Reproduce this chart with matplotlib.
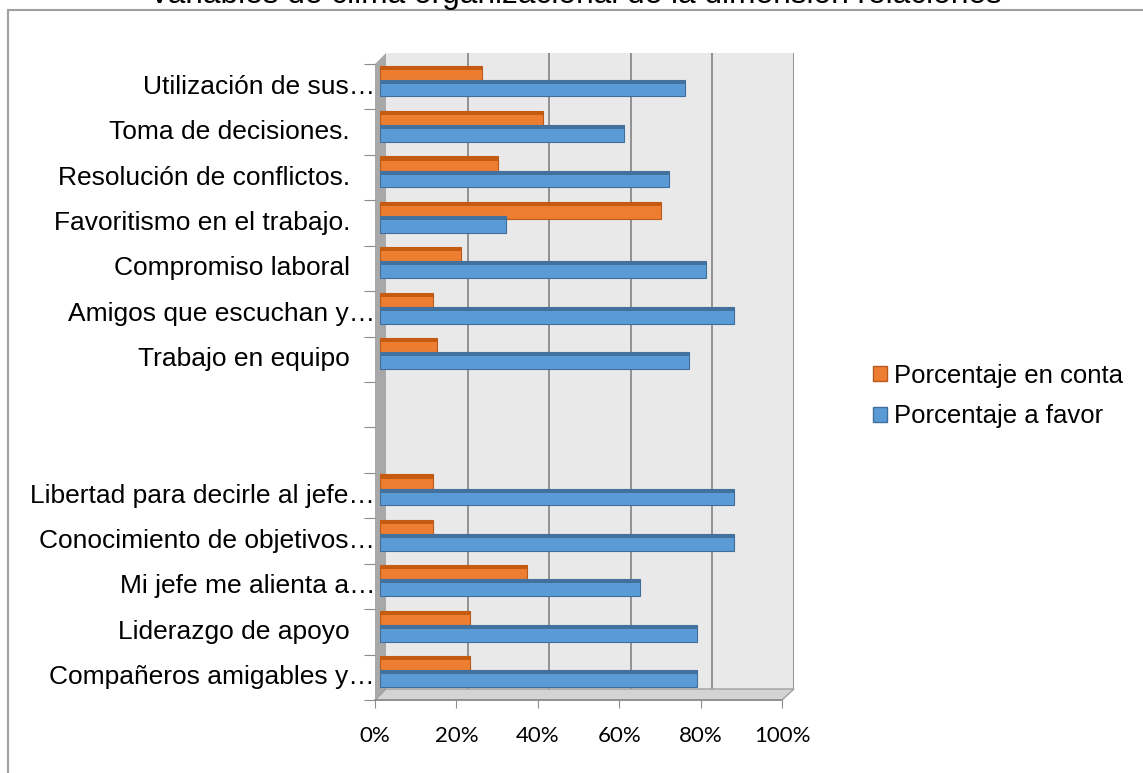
import numpy as np
import matplotlib
matplotlib.use("Agg")
import matplotlib.pyplot as plt
from matplotlib.patches import Polygon, Rectangle

# categories bottom -> top (two empty slots in the middle)
categorias = [
    "Compañeros amigables y…",
    "Liderazgo de apoyo",
    "Mi jefe me alienta a…",
    "Conocimiento de objetivos…",
    "Libertad para decirle al jefe…",
    "",
    "",
    "Trabajo en equipo",
    "Amigos que escuchan y…",
    "Compromiso laboral",
    "Favoritismo en el trabajo.",
    "Resolución de conflictos.",
    "Toma de decisiones.",
    "Utilización de sus…",
]
en_contra = [0.22, 0.22, 0.36, 0.13, 0.13, None, None, 0.14, 0.13, 0.20, 0.69, 0.29, 0.40, 0.25]
a_favor = [0.78, 0.78, 0.64, 0.87, 0.87, None, None, 0.76, 0.87, 0.80, 0.31, 0.71, 0.60, 0.75]
xticks = [0, 0.2, 0.4, 0.6, 0.8, 1.0]
xticklabels = ["0%", "20%", "40%", "60%", "80%", "100%"]
titulo = "Variables de clima organizacional de la dimensión relaciones"
series = ["Porcentaje en conta", "Porcentaje a favor"]

W, H = 1143, 773
fig = plt.figure(figsize=(W / 100, H / 100), dpi=100)


def box(x0, x1, ytop, ybot):
    return [x0 / W, 1 - ybot / H, (x1 - x0) / W, (ybot - ytop) / H]


def fpt(x, y):
    return (x / W, 1 - y / H)


# chart border (only top and left edges are inside the picture)
fig.add_artist(Rectangle(fpt(8, 790), (W + 20) / W, 780 / H, transform=fig.transFigure,
                         fill=False, edgecolor="#a0a0a0", lw=1.5, zorder=0.1))

fig.text(575 / W, 1 - 3.5 / H, titulo, ha="center", va="baseline",
         fontsize=22.8, family="Liberation Sans", color="black")

n = len(categorias)
y = np.arange(n)

# back wall
back = fig.add_axes(box(386, 794, 53, 689), zorder=0)
back.set_facecolor("#e9e9e9")
back.set_xlim(0, 1)
back.set_ylim(-0.5, n - 0.5)
for xv in xticks[1:]:
    back.axvline(xv, color="#8a8a8a", lw=1.3)
back.set_xticks([])
back.set_yticks([])
for s in back.spines.values():
    s.set_visible(False)

# side wall and floor
fig.add_artist(Polygon([fpt(375, 64), fpt(386, 53), fpt(386, 689), fpt(375, 700)],
                       closed=True, transform=fig.transFigure,
                       facecolor="#a8a8a8", edgecolor="none", zorder=0.5))
fig.add_artist(Polygon([fpt(375, 700), fpt(386, 689), fpt(794, 689), fpt(782, 700)],
                       closed=True, transform=fig.transFigure,
                       facecolor="#d4d4d4", edgecolor="#a0a0a0", lw=1, zorder=0.5))

# bars
ax = fig.add_axes(box(380, 787, 64, 700), zorder=1)
ax.patch.set_alpha(0)
ax.set_xlim(0, 1)
ax.set_ylim(-0.5, n - 0.5)
ax.axis("off")

h = 0.37
top = 0.09
for i in range(n):
    if en_contra[i] is not None:
        yc = y[i] + 0.28
        ax.barh(yc, en_contra[i], height=h, color="#ED7D31", edgecolor="#B85A1C", lw=0.8)
        ax.barh(yc + h / 2 - top / 2, en_contra[i], height=top, color="#C55A11", lw=0)
    if a_favor[i] is not None:
        yc = y[i] - 0.03
        ax.barh(yc, a_favor[i], height=h, color="#5B9BD5", edgecolor="#3F6E9C", lw=0.8)
        ax.barh(yc + h / 2 - top / 2, a_favor[i], height=top, color="#41719C", lw=0)

# front axis (ticks and labels)
fr = fig.add_axes(box(375, 782, 64, 700), zorder=2)
fr.patch.set_alpha(0)
fr.set_xlim(0, 1)
fr.set_ylim(-0.5, n - 0.5)
for s in ["top", "right", "left"]:
    fr.spines[s].set_visible(False)
fr.spines["bottom"].set_color("#8c8c8c")
fr.spines["bottom"].set_linewidth(1.2)
fr.set_xticks(xticks)
fr.set_xticklabels(xticklabels, family="Lato", fontsize=16)
fr.tick_params(axis="x", length=6, color="#8c8c8c", pad=12.5)
fr.set_yticks(np.arange(n + 1) - 0.5)
fr.set_yticklabels([])
fr.tick_params(axis="y", which="major", length=8, color="#8c8c8c")

# category labels: full labels end at x~350, truncated ones at x~375
for yi, lab in zip(y, categorias):
    xr = 375 if lab.endswith("…") else 350
    fr.text((xr - 375) / 407, yi, lab, transform=fr.get_yaxis_transform(),
            ha="right", va="center", family="Liberation Sans", fontsize=19)

handles = [Rectangle((0, 0), 1, 1, facecolor="#ED7D31", edgecolor="#B85A1C"),
           Rectangle((0, 0), 1, 1, facecolor="#5B9BD5", edgecolor="#3F6E9C")]
fig.legend(handles, series,
           loc="center left", bbox_to_anchor=(873 / W, 1 - 396 / H),
           frameon=False, prop={"family": "Liberation Sans", "size": 18.5},
           borderpad=0, borderaxespad=0,
           handlelength=0.55, handleheight=0.55, handletextpad=0.25, labelspacing=0.65)

fig.savefig("out.png", dpi=100)
